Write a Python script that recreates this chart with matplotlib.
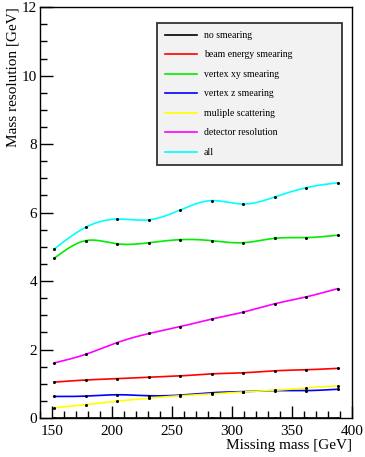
import numpy as np
import matplotlib.pyplot as plt
from matplotlib.ticker import MultipleLocator

plt.rcParams['font.family'] = ['Liberation Serif', 'DejaVu Serif']

# missing mass points [GeV]
mass = [152, 178, 204, 231, 257, 283, 309, 336, 362, 388]

# mass resolution [GeV] per smearing source
no_smearing = [0.0, 0.0, 0.0, 0.0, 0.0, 0.0, 0.0, 0.0, 0.0, 0.0]
beam_energy = [1.05, 1.11, 1.15, 1.19, 1.23, 1.29, 1.32, 1.38, 1.41, 1.45]
vertex_xy = [4.67, 5.18, 5.09, 5.12, 5.21, 5.18, 5.12, 5.25, 5.27, 5.34]
vertex_z = [0.63, 0.64, 0.68, 0.65, 0.67, 0.74, 0.77, 0.80, 0.80, 0.84]
mult_scatt = [0.30, 0.39, 0.49, 0.58, 0.65, 0.70, 0.76, 0.81, 0.88, 0.94]
detector = [1.61, 1.86, 2.20, 2.47, 2.67, 2.89, 3.09, 3.34, 3.54, 3.78]
all_src = [4.94, 5.57, 5.81, 5.79, 6.08, 6.35, 6.25, 6.46, 6.73, 6.87]

labels = ['no smearing', 'beam energy smearing', 'vertex xy smearing',
          'vertex z smearing', 'muliple scattering', 'detector resolution', 'all']
colors = ['black', 'red', '#00ee00', 'blue', 'yellow', 'magenta', 'cyan']
series = [no_smearing, beam_energy, vertex_xy, vertex_z, mult_scatt, detector, all_src]


#natural cubic spline through the points, just for drawing smooth curves
def spline(x, y, n=300):
    x = np.asarray(x, float)
    y = np.asarray(y, float)
    k = len(x)
    h = np.diff(x)
    A = np.zeros((k, k))
    b = np.zeros(k)
    A[0, 0] = 1
    A[-1, -1] = 1
    for i in range(1, k - 1):
        A[i, i - 1] = h[i - 1]
        A[i, i] = 2 * (h[i - 1] + h[i])
        A[i, i + 1] = h[i]
        b[i] = 3 * ((y[i + 1] - y[i]) / h[i] - (y[i] - y[i - 1]) / h[i - 1])
    c = np.linalg.solve(A, b)
    xs = np.linspace(x[0], x[-1], n)
    idx = np.clip(np.searchsorted(x, xs) - 1, 0, k - 2)
    dx = xs - x[idx]
    hi = h[idx]
    bb = (y[idx + 1] - y[idx]) / hi - hi * (2 * c[idx] + c[idx + 1]) / 3
    dd = (c[idx + 1] - c[idx]) / (3 * hi)
    ys = y[idx] + bb * dx + c[idx] * dx ** 2 + dd * dx ** 3
    return xs, ys


fig = plt.figure(figsize=(3.65, 4.57), dpi=100)
ax = fig.add_axes([0.1096, 0.0853, 0.855, 0.899])

for vals, col, lab in zip(series, colors, labels):
    xs, ys = spline(mass, vals)
    ax.plot(xs, ys, color=col, lw=1.2, label=lab)
    ax.plot(mass, vals, 'o', color='black', ms=1.2, zorder=5)

ax.set_xlim(140, 400)
ax.set_ylim(0, 12)
ax.xaxis.set_major_locator(MultipleLocator(50))
ax.xaxis.set_minor_locator(MultipleLocator(10))
ax.yaxis.set_major_locator(MultipleLocator(2))
ax.yaxis.set_minor_locator(MultipleLocator(0.5))
ax.tick_params(which='both', direction='in', top=False, right=False, labelsize=11, width=1)
ax.tick_params(which='major', length=9)
ax.tick_params(which='minor', length=5)
ax.tick_params(axis='x', pad=5)
ax.tick_params(axis='y', pad=2)
for s in ax.spines.values():
    s.set_linewidth(1)

ax.set_xlabel('Missing mass [GeV]', fontsize=11, loc='right', labelpad=1)
ax.set_ylabel('Mass resolution [GeV]', fontsize=11, loc='top', labelpad=2)

leg = ax.legend(loc='upper left', bbox_to_anchor=(0.375, 0.623, 0.593, 0.338),
                mode='expand', fontsize=7, frameon=True, fancybox=False,
                borderaxespad=0, handlelength=3.3, labelspacing=1.08,
                handletextpad=0.7, borderpad=0.8)
leg.get_frame().set_facecolor('#f2f2f2')
leg.get_frame().set_edgecolor('#333333')
leg.get_frame().set_linewidth(1.3)
leg.get_frame().set_alpha(1)

fig.savefig('out.png', dpi=100)
